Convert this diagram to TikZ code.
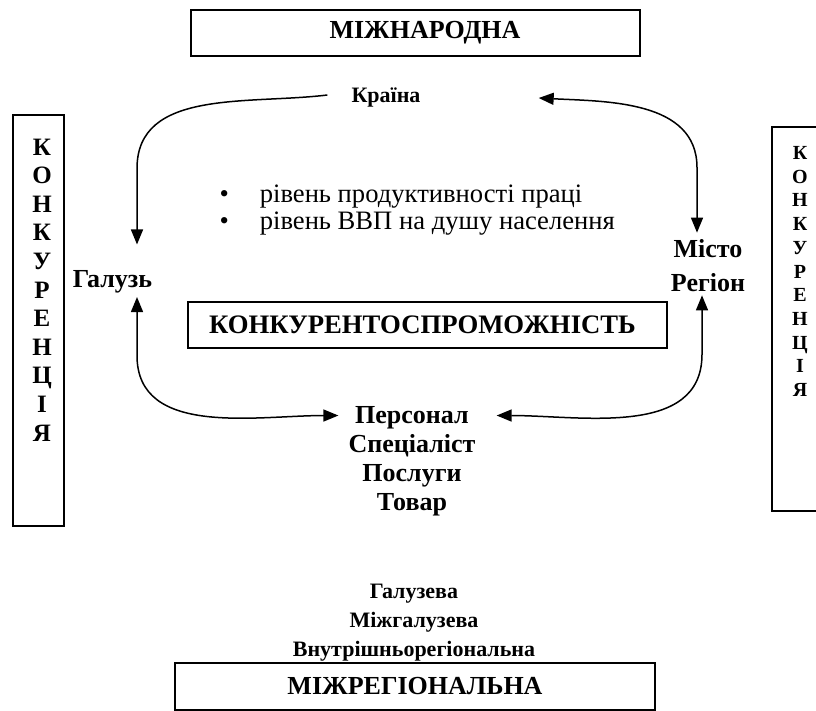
\documentclass[tikz,border=0pt]{standalone}
\usepackage{fontspec}
\setmainfont{Liberation Serif}
\usetikzlibrary{arrows.meta,calc}

\tikzset{
    frame/.style={draw, line width=1.5pt, inner sep=0pt},
    lbl/.style={font=\fontsize{26}{29}\selectfont\bfseries, align=center, inner sep=2pt},
    small/.style={font=\fontsize{22}{29}\selectfont\bfseries},
    tip/.style={line width=1.5pt, -{Triangle[length=15pt,width=12pt]}},
    twotip/.style={line width=1.5pt, {Triangle[length=15pt,width=12pt]}-{Triangle[length=15pt,width=12pt]}}
}

\begin{document}
\begin{tikzpicture}[
        x=1pt,
        y=-1pt]
\useasboundingbox (0,0) rectangle (816,711);
\clip (0,0) rectangle (816,711);
% frames
\node[frame, minimum width=449pt, minimum height=46pt, lbl] (intl) at (415.5,33) {\hspace*{19pt}МІЖНАРОДНА};
\node[frame, minimum width=480pt, minimum height=47pt, lbl] (interreg) at (415,686.5) {МІЖРЕГІОНАЛЬНА};
\node[frame, minimum width=479pt, minimum height=46pt, lbl, font=\fontsize{26.7}{29}\selectfont\bfseries] (compet) at (427.5,325) {КОНКУРЕНТОСПРОМОЖНІСТЬ\hspace*{10pt}};
\node[frame, minimum width=51pt, minimum height=411pt] (leftbox) at (38.5,320.5) {};
\node[frame, minimum width=60pt, minimum height=384pt] (rightbox) at (802,319) {};
\node[lbl, font=\fontsize{25}{28.6}\selectfont\bfseries] (leftword) at (42,290)
    {К\\О\\Н\\К\\У\\Р\\Е\\Н\\Ц\\І\\Я};
\node[lbl, font=\fontsize{20}{23.7}\selectfont\bfseries] (rightword) at (800,271.5)
    {К\\О\\Н\\К\\У\\Р\\Е\\Н\\Ц\\І\\Я};
% levels
\node[lbl, small] (country) at (386,97) {Країна};
\node[lbl] (branch) at (112.5,282) {Галузь};
\node[lbl, font=\fontsize{26}{34}\selectfont\bfseries] (city) at (708,266) {Місто\\Регіон};
\node[lbl] (staff) at (412,461) {Персонал\\Спеціаліст\\Послуги\\Товар};
\node[lbl, small] (kinds) at (414,623) {Галузева\\Міжгалузева\\Внутрішньорегіональна};
\node[font=\fontsize{26.6}{27}\selectfont, align=left, anchor=west] (measures) at (216,210)
    {•\hspace{31pt}рівень продуктивності праці\\•\hspace{31pt}рівень ВВП на душу населення};
% links
\draw[tip] ($(country.west)+(-22,-2)$) to[out=187,in=90] ($(branch.north)+(24.5,-100)$)
    -- ($(branch.north)+(24.5,-24)$);
\draw[twotip] ($(country.east)+(116,1)$) to[out=-3,in=90] ($(city.north)+(-11,-70)$)
    -- ($(city.north)+(-11,-5)$);
\draw[twotip] ($(branch.south)+(24.5,1.5)$) -- ($(branch.south)+(24.5,60)$)
    to[out=-90,in=180] ($(staff.north west)+(-8,11.5)$);
\draw[twotip] ($(city.south)+(-6,1)$) -- ($(city.south)+(-6,60)$)
    to[out=-90,in=0] ($(staff.north east)+(19,11.5)$);
\end{tikzpicture}
\end{document}
